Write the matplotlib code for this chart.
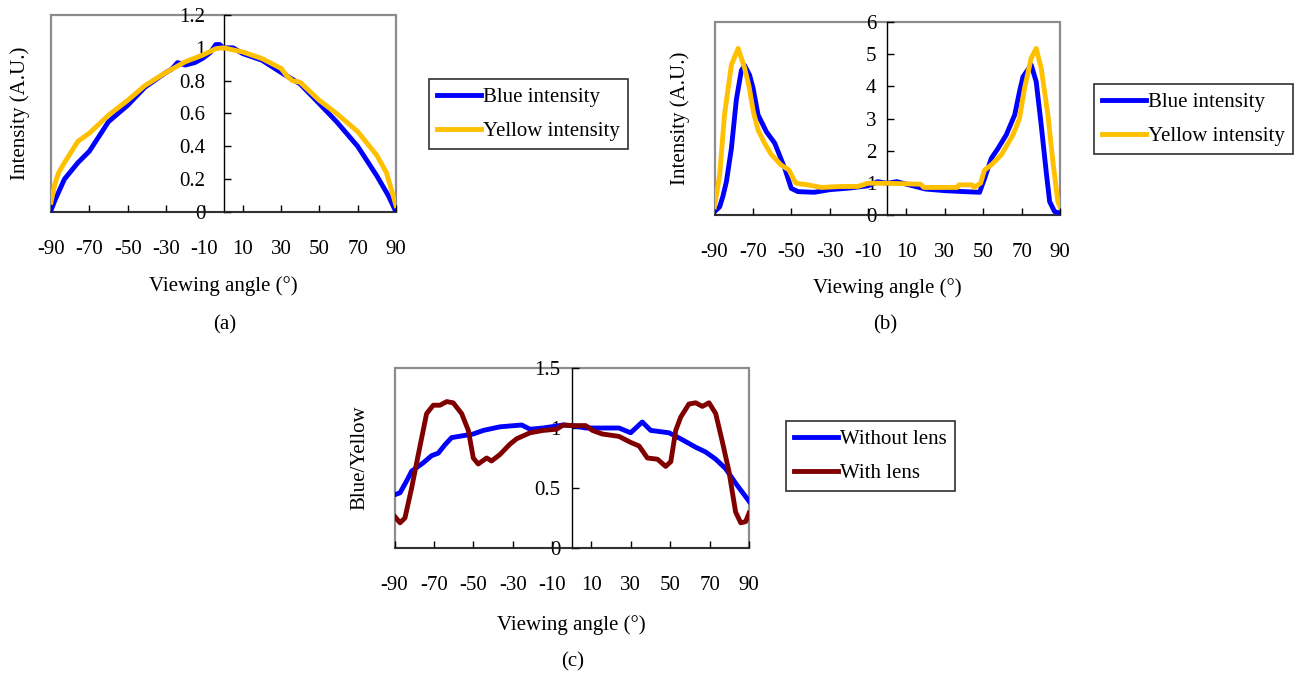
import numpy as np
import matplotlib
matplotlib.use('Agg')
from matplotlib import pyplot as plt
from matplotlib.patches import Rectangle

plt.rcParams['font.family'] = ['Liberation Serif', 'DejaVu Serif']
plt.rcParams['font.size'] = 15

# ---- data ----
# (a) intensity without lens
ang_a_blue = [-90, -88, -83, -76, -70, -60, -50, -41, -30, -27, -24, -20, -15, -11, -7, -4, -2, 0,
              5, 10, 20, 30, 40, 50, 59, 70, 80, 86, 90]
blue_a = [0.01, 0.07, 0.20, 0.30, 0.37, 0.55, 0.65, 0.76, 0.85, 0.87, 0.91, 0.895, 0.91, 0.935, 0.97, 1.02, 1.02, 1.0,
          1.0, 0.965, 0.925, 0.85, 0.78, 0.66, 0.55, 0.40, 0.22, 0.10, 0.0]
ang_a_yel = [-90, -88, -86, -83, -76, -70, -60, -50, -41, -30, -20, -11, -4, 0,
             10, 20, 30, 33, 36, 40, 50, 59, 70, 80, 85, 88, 90]
yel_a = [0.06, 0.17, 0.24, 0.30, 0.43, 0.48, 0.59, 0.68, 0.77, 0.85, 0.915, 0.955, 0.995, 1.0,
         0.975, 0.935, 0.875, 0.83, 0.80, 0.79, 0.68, 0.60, 0.49, 0.345, 0.24, 0.12, 0.04]

# (b) intensity with lens
ang_b_blue = [-90, -87.3, -85.6, -83.8, -81.2, -78.6, -76, -74.3, -71.7, -69.9, -67.3, -63, -58.6, -53.4,
              -50, -46.5, -38, -30, -20, -10, -5, 0, 5, 10, 20, 30, 40, 48.1,
              50.7, 54.2, 57.7, 62, 66.4, 68.9, 70.7, 75, 77.6, 80.2, 82.8, 84.6, 87.2, 90]
blue_b = [0.12, 0.27, 0.6, 1.05, 2.08, 3.6, 4.5, 4.65, 4.35, 3.95, 3.12, 2.6, 2.24, 1.46,
          0.84, 0.74, 0.72, 0.8, 0.85, 0.92, 1.05, 1.0, 1.05, 0.97, 0.82, 0.77, 0.74, 0.72,
          1.15, 1.77, 2.08, 2.5, 3.12, 3.84, 4.3, 4.67, 4.15, 2.81, 1.36, 0.43, 0.12, 0.07]
ang_b_yel = [-90, -87.3, -84.8, -81.2, -77.7, -74.3, -72, -69.7, -67.3, -64, -60.5, -55.4, -51.2, -48.6,
             -47.4, -41.4, -34.4, -24, -15.3, -10, 0, 17.4, 19.1, 36.5, 37.3, 44.3, 45.2, 48.6,
             50.7, 54.2, 59.4, 65.5, 68.9, 71.5, 75, 77.6, 80.2, 83.7, 86.3, 88.9, 90]
yel_b = [0.27, 1.26, 3.12, 4.67, 5.18, 4.57, 4.0, 3.2, 2.65, 2.25, 1.9, 1.57, 1.41, 1.1,
         1.0, 0.95, 0.87, 0.9, 0.9, 1.0, 1.0, 0.97, 0.87, 0.87, 0.95, 0.95, 0.87, 1.0,
         1.41, 1.57, 1.88, 2.5, 3.01, 3.94, 4.88, 5.18, 4.57, 3.12, 1.67, 0.42, 0.27]

# (c) blue/yellow ratio
ang_c_no = [-89.7, -87.2, -83.8, -81.3, -75.4, -71.1, -67.8, -64.4, -61, -50, -44.9, -36.4, -25.4, -21.2,
            -14.5, -4.3, 0, 7.1, 15.5, 24, 29.9, 35.8, 40.1, 49.4, 55.3, 62.9, 68, 73.1, 78.2, 83.2, 90]
ratio_no = [0.445, 0.46, 0.56, 0.64, 0.71, 0.77, 0.79, 0.86, 0.92, 0.95, 0.98, 1.01, 1.025, 0.99,
            1.0, 1.025, 1.02, 1.0, 1.0, 1.0, 0.96, 1.05, 0.98, 0.96, 0.91, 0.84, 0.80, 0.74, 0.66, 0.54, 0.39]
ang_c_lens = [-89.7, -87.2, -84.7, -81.3, -77.9, -73.7, -70.3, -66.9, -63.5, -60.2, -55.9, -52.5, -50,
              -47.5, -43.2, -40.7, -36.4, -31.4, -28, -21.2, -14.5, -7.7, -4.3, 0,
              7.1, 10.5, 15.5, 24, 29.9, 34.2, 38.4, 43.5, 47.7, 50.3, 52.8, 55.3, 59.5, 62.9, 66.3,
              69.7, 73.1, 76.4, 79.8, 83.2, 85.8, 88.3, 90]
ratio_lens = [0.26, 0.21, 0.25, 0.50, 0.78, 1.12, 1.19, 1.19, 1.22, 1.21, 1.12, 0.98, 0.75,
              0.70, 0.75, 0.725, 0.78, 0.865, 0.91, 0.96, 0.98, 0.99, 1.025, 1.02,
              1.02, 0.98, 0.95, 0.93, 0.88, 0.85, 0.75, 0.74, 0.68, 0.72, 0.98, 1.09, 1.20, 1.21, 1.18,
              1.21, 1.12, 0.89, 0.64, 0.30, 0.21, 0.22, 0.29]

x_ticks = [-90, -70, -50, -30, -10, 10, 30, 50, 70, 90]
x_labels = ['-90', '-70', '-50', '-30', '-10', '10', '30', '50', '70', '90']

BLUE = '#0000FF'
YELLOW = '#FFC000'
DARKRED = '#800000'
LW = 3.5


def setup(ax, ylim, yticks, ylabels, ylab, ypad, ylab_x, xlab_y):
    ax.set_xlim(-90, 90)
    ax.set_ylim(*ylim)
    for s in ['top', 'right']:
        ax.spines[s].set_visible(False)
    ax.spines['left'].set_position(('data', 0))
    ax.spines['left'].set_linewidth(1)
    ax.spines['left'].set_zorder(1)
    ax.spines['bottom'].set_linewidth(1.2)
    ax.spines['bottom'].set_color('#202020')
    ax.add_patch(Rectangle((0, 0), 1, 1, transform=ax.transAxes, fill=False,
                           edgecolor='#8c8c8c', lw=1.6, zorder=0.5, clip_on=False))
    ax.set_xticks(x_ticks)
    ax.set_xticklabels(x_labels)
    ax.set_yticks(yticks)
    ax.set_yticklabels(ylabels)
    ax.tick_params(axis='x', direction='in', length=5, width=1, pad=20)
    ax.tick_params(axis='y', direction='in', length=5, width=1, pad=ypad)
    ax.set_xlabel('Viewing angle (°)')
    ax.set_ylabel('Intensity (A.U.)' if ylab is None else ylab)
    ax.xaxis.set_label_coords(0.5, xlab_y)
    ax.yaxis.set_label_coords(ylab_x, 0.5)


fig = plt.figure(figsize=(13, 6.78), dpi=100)

# (a)
ax1 = fig.add_axes([51 / 1300, 1 - 212 / 678, 345 / 1300, 197 / 678])
ax1.plot(ang_a_blue, blue_a, color=BLUE, lw=LW, label='Blue intensity', zorder=3)
ax1.plot(ang_a_yel, yel_a, color=YELLOW, lw=LW, label='Yellow intensity', zorder=3)
setup(ax1, (0, 1.2), [0, 0.2, 0.4, 0.6, 0.8, 1.0, 1.2],
      ['0', '0.2', '0.4', '0.6', '0.8', '1', '1.2'], None, 13, -0.060, -0.325)

# (b)
ax2 = fig.add_axes([714.5 / 1300, 1 - 215.5 / 678, 345.5 / 1300, 193.5 / 678])
ax2.plot(ang_b_blue, blue_b, color=BLUE, lw=LW, label='Blue intensity', zorder=3)
ax2.plot(ang_b_yel, yel_b, color=YELLOW, lw=LW, label='Yellow intensity', zorder=3)
setup(ax2, (0, 6), [0, 1, 2, 3, 4, 5, 6],
      ['0', '1', '2', '3', '4', '5', '6'], None, 8, -0.071, -0.323)

# (c)
ax3 = fig.add_axes([394.5 / 1300, 1 - 548 / 678, 354.5 / 1300, 180 / 678])
ax3.plot(ang_c_no, ratio_no, color=BLUE, lw=LW, label='Without lens', zorder=3)
ax3.plot(ang_c_lens, ratio_lens, color=DARKRED, lw=LW, label='With lens', zorder=3)
setup(ax3, (0, 1.5), [0, 0.5, 1.0, 1.5], ['0', '0.5', '1', '1.5'],
      'Blue/Yellow', 8, -0.0715, -0.372)

legend_pos = [(ax1, 429, 79), (ax2, 1094, 84), (ax3, 786, 421)]
for ax, lx, ly in legend_pos:
    leg = ax.legend(loc='upper left', bbox_to_anchor=(lx / 1300, 1 - ly / 678),
                    bbox_transform=fig.transFigure, borderaxespad=0, fancybox=False,
                    edgecolor='#303030', framealpha=1, handlelength=2.1, handletextpad=0.1,
                    labelspacing=0.7, borderpad=0.4)
    leg.get_frame().set_linewidth(1.2)

fig.text(225 / 1300, 1 - 325 / 678, '(a)', ha='center', va='center')
fig.text(885 / 1300, 1 - 325 / 678, '(b)', ha='center', va='center')
fig.text(573 / 1300, 1 - 662 / 678, '(c)', ha='center', va='center')

fig.savefig('out.png', dpi=100)
